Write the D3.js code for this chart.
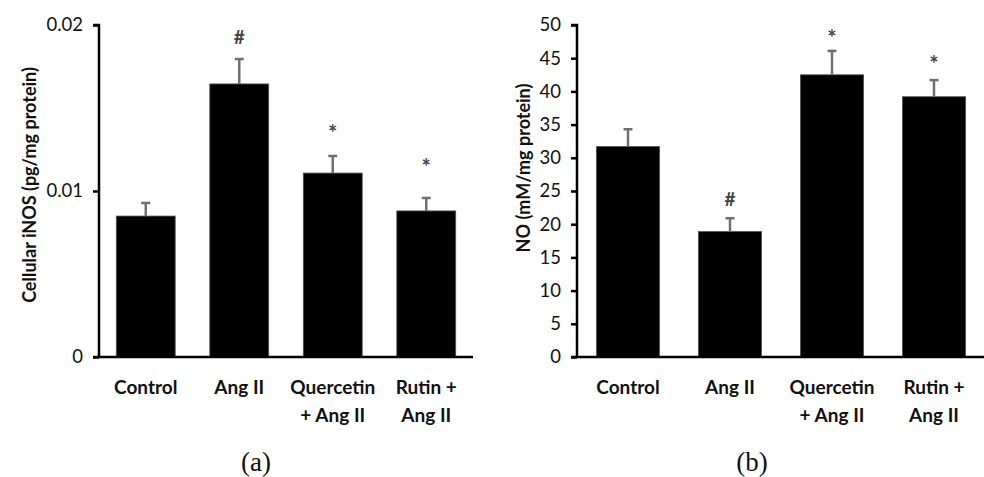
<!DOCTYPE html>
<html>
<head>
<meta charset="utf-8">
<script src="https://cdn.jsdelivr.net/npm/d3@7"></script>
<style>
  body { margin: 0; background: #fff; }
  svg text { font-family: Lato, "Open Sans", sans-serif; }
</style>
</head>
<body>
<div id="chart"></div>
<script>
// groups on the x axis
const groups = ["Control", "Ang II", "Quercetin + Ang II", "Rutin + Ang II"];
const groupLines = [["Control"], ["Ang II"], ["Quercetin", "+ Ang II"], ["Rutin +", "Ang II"]];

// panel (a) cellular iNOS
const inosMean = [0.00849, 0.01645, 0.01108, 0.0088];
const inosErr = [0.00079, 0.0015, 0.00103, 0.00078];
const inosMarks = ["", "#", "*", "*"];
const inosMarkAt = [null, 0.0193, 0.0138, 0.01175]; // where the significance marks sit
const inosTicks = [0, 0.01, 0.02];

// panel (b) NO
const noMean = [31.7, 18.9, 42.5, 39.2];
const noErr = [2.6, 2.0, 3.6, 2.5];
const noMarks = ["", "#", "*", "*"];
const noMarkAt = [null, 23.8, 48.9, 45.0];
const noTicks = [0, 5, 10, 15, 20, 25, 30, 35, 40, 45, 50];

const svg = d3.select("#chart").append("svg")
    .attr("width", 984)
    .attr("height", 477);

function drawPanel(opt) {
    const g = svg.append("g");

    const x = d3.scaleBand().domain(groups).range([opt.x0, opt.x1]).paddingInner(opt.pad).paddingOuter(opt.pad / 2);
    const y = d3.scaleLinear().domain(opt.domain).range([357, 25]);

    // bars
    g.selectAll(".bar")
        .data(opt.mean)
        .enter()
        .append("rect")
        .attr("x", (d, i) => x(groups[i]))
        .attr("y", d => y(d))
        .attr("width", x.bandwidth())
        .attr("height", d => y(0) - y(d))
        .attr("fill", "#000")
        .attr("stroke", "#555")
        .attr("stroke-width", 0.8);

    // error bars (upper only)
    opt.mean.forEach((m, i) => {
        const cx = x(groups[i]) + x.bandwidth() / 2;
        const top = y(m + opt.err[i]);
        g.append("line")
            .attr("x1", cx).attr("x2", cx)
            .attr("y1", y(m)).attr("y2", top)
            .attr("stroke", "#707070").attr("stroke-width", 2.5);
        g.append("line")
            .attr("x1", cx - 4.5).attr("x2", cx + 4.5)
            .attr("y1", top).attr("y2", top)
            .attr("stroke", "#707070").attr("stroke-width", 2.5);
        if (opt.marks[i]) {
            const star = opt.marks[i] === "*";
            g.append("text")
                .attr("x", cx)
                .attr("y", y(opt.markAt[i]))
                .attr("dy", star ? 5 : 0)
                .attr("text-anchor", "middle")
                .attr("dominant-baseline", "central")
                .style("font-size", star ? "22px" : "19px")
                .style("font-weight", "bold")
                .attr("fill", "#444")
                .text(opt.marks[i]);
        }
    });

    // y axis
    const yAxis = g.append("g")
        .attr("transform", `translate(${opt.x0},0)`)
        .call(d3.axisLeft(y).tickValues(opt.ticks).tickSize(6).tickPadding(10).tickFormat(opt.fmt));
    yAxis.select(".domain").attr("stroke", "#000").attr("stroke-width", 2.5).attr("d", `M-6,${y(opt.domain[1])}H0V${y(0)}`);
    yAxis.selectAll(".tick line").attr("stroke", "#000").attr("stroke-width", 2.5);
    yAxis.selectAll(".tick text")
        .style("font-family", "Lato, 'Open Sans', sans-serif")
        .style("font-size", "18.5px")
        .attr("fill", "#111");

    // x axis baseline
    g.append("line")
        .attr("x1", opt.x0 - 6).attr("x2", opt.x1)
        .attr("y1", y(0)).attr("y2", y(0))
        .attr("stroke", "#000").attr("stroke-width", 2.5);

    // category labels
    groupLines.forEach((lines, i) => {
        const t = g.append("text")
            .attr("x", x(groups[i]) + x.bandwidth() / 2)
            .attr("y", 394)
            .attr("text-anchor", "middle")
            .style("font-size", "19px")
            .style("font-weight", "bold")
            .attr("fill", "#111");
        lines.forEach((l, j) => {
            t.append("tspan")
                .attr("x", x(groups[i]) + x.bandwidth() / 2)
                .attr("dy", j === 0 ? 0 : 28)
                .text(l);
        });
    });

    // y label
    g.append("text")
        .attr("transform", `translate(${opt.labelX},${opt.labelY}) rotate(-90)`)
        .attr("text-anchor", "middle")
        .attr("dominant-baseline", "central")
        .style("font-size", "18px")
        .style("font-weight", "bold")
        .attr("fill", "#111")
        .text(opt.label);

    // panel caption
    g.append("text")
        .attr("x", opt.capX)
        .attr("y", 471)
        .attr("text-anchor", "middle")
        .style("font-family", "'Liberation Serif', 'DejaVu Serif', serif")
        .style("font-size", "27px")
        .attr("fill", "#111")
        .text(opt.caption);
}

drawPanel({
    x0: 99, x1: 473, pad: 0.37,
    domain: [0, 0.02],
    mean: inosMean, err: inosErr, marks: inosMarks, markAt: inosMarkAt, ticks: inosTicks,
    fmt: d => d === 0 ? "0" : d3.format(".2f")(d),
    label: "Cellular iNOS (pg/mg protein)", labelX: 29, labelY: 185,
    caption: "(a)", capX: 256
});

drawPanel({
    x0: 577, x1: 985, pad: 0.38,
    domain: [0, 50],
    mean: noMean, err: noErr, marks: noMarks, markAt: noMarkAt, ticks: noTicks,
    fmt: d3.format("d"),
    label: "NO (mM/mg protein)", labelX: 523, labelY: 168,
    caption: "(b)", capX: 752
});
</script>
</body>
</html>
